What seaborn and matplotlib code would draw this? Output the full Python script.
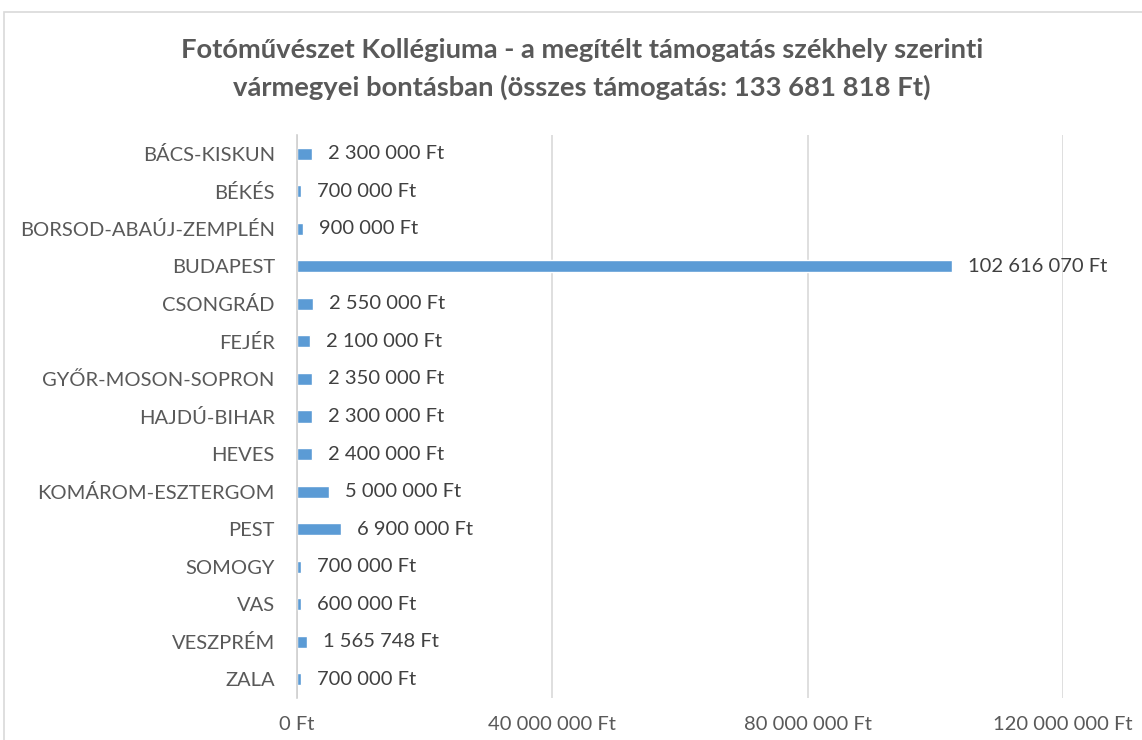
import matplotlib
matplotlib.use("Agg")
import matplotlib.pyplot as plt
import matplotlib.ticker as mticker
from matplotlib.patches import Rectangle
import seaborn as sns
import pandas as pd

# megyék és a megítélt támogatás (Ft)
megyek = ["BÁCS-KISKUN", "BÉKÉS", "BORSOD-ABAÚJ-ZEMPLÉN", "BUDAPEST", "CSONGRÁD",
          "FEJÉR", "GYŐR-MOSON-SOPRON", "HAJDÚ-BIHAR", "HEVES", "KOMÁROM-ESZTERGOM",
          "PEST", "SOMOGY", "VAS", "VESZPRÉM", "ZALA"]
tamogatas = [2300000, 700000, 900000, 102616070, 2550000,
             2100000, 2350000, 2300000, 2400000, 5000000,
             6900000, 700000, 600000, 1565748, 700000]
x_ticks = [0, 40000000, 80000000, 120000000]
cim = ("Fotóművészet Kollégiuma - a megítélt támogatás székhely szerinti\n"
       "vármegyei bontásban (összes támogatás: 133 681 818 Ft)")

df = pd.DataFrame({"megye": megyek, "ft": tamogatas})

sns.set_theme(style="white")
plt.rcParams["font.family"] = ["Lato", "DejaVu Sans"]

szurke = "#595959"

def ft(v, pos=None):
    return f"{int(round(v)):,}".replace(",", " ") + " Ft"

fig = plt.figure(figsize=(11.42, 7.4), dpi=100)
ax = fig.add_axes([297 / 1142, 1 - 698 / 740, (1063 - 297) / 1142, (698 - 135) / 740])

sns.barplot(data=df, x="ft", y="megye", orient="h", color="#5B9BD5",
            width=0.32, saturation=1, ax=ax)

ax.set_xlim(0, 120000000)
ax.set_ylim(14.5, -0.5)
ax.set_xticks(x_ticks)
ax.xaxis.set_major_formatter(mticker.FuncFormatter(ft))
ax.grid(axis="x", color="#D9D9D9", linewidth=1.2)
ax.set_axisbelow(True)
for s in ["top", "right", "bottom"]:
    ax.spines[s].set_visible(False)
ax.spines["left"].set_color("#D0D0D0")
ax.spines["left"].set_linewidth(1.2)
ax.tick_params(axis="x", length=0, pad=13, labelsize=14.5, labelcolor=szurke)
ax.tick_params(axis="y", length=0, pad=16, labelsize=14.5, labelcolor=szurke)
ax.set_xlabel("")
ax.set_ylabel("")

ax.bar_label(ax.containers[0], labels=[ft(v) for v in tamogatas], padding=11.5,
             fontsize=14.5, color="#404040")

fig.text(582 / 1142, 1 - 69 / 740, cim, ha="center", va="center",
         fontsize=19.7, fontweight="bold", color=szurke, linespacing=1.6)

fig.patches.append(Rectangle((4 / 1142, -0.05), 1.2, 1 - 12 / 740 + 0.05,
                             transform=fig.transFigure, fill=False,
                             edgecolor="#D9D9D9", linewidth=1.2))

fig.savefig("out.png", dpi=100)
